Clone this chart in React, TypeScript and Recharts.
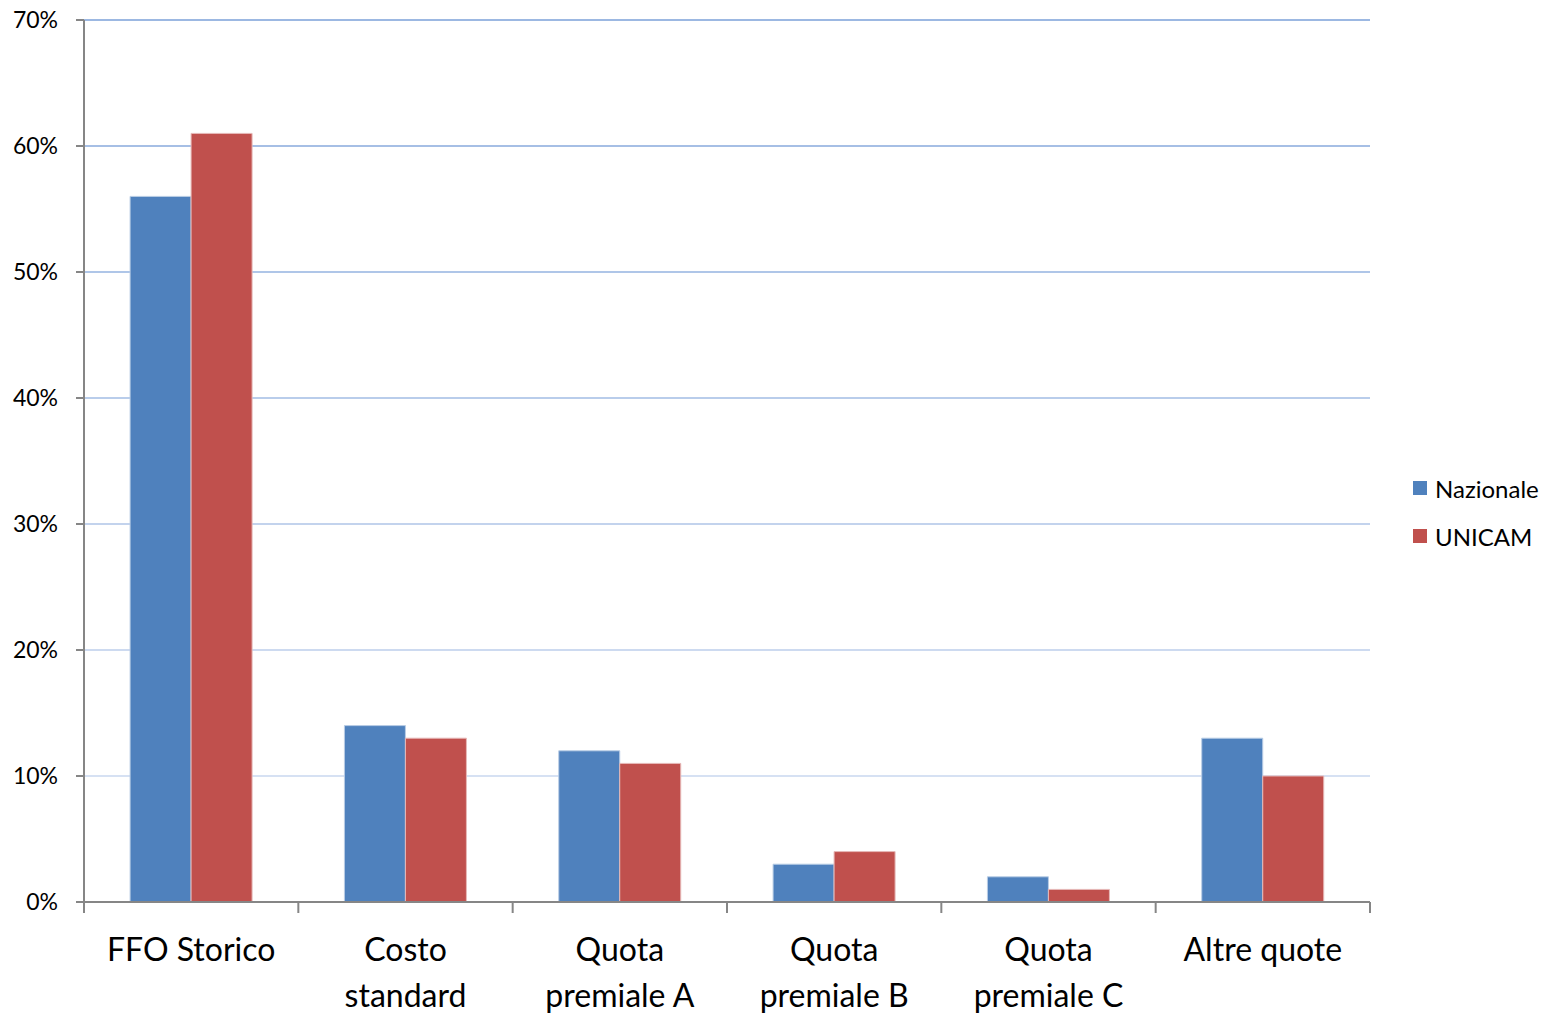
import React from "react";
import { BarChart, Bar, XAxis, YAxis, CartesianGrid } from "recharts";

const categories = ["FFO Storico", "Costo\nstandard", "Quota\npremiale A", "Quota\npremiale B", "Quota\npremiale C", "Altre quote"];
const nazionale = [56, 14, 12, 3, 2, 13];
const unicam = [61, 13, 11, 4, 1, 10];
const yTicks = [0, 10, 20, 30, 40, 50, 60, 70];

const FONT = "Lato, 'Open Sans', sans-serif";
const W = 1547;
const H = 1016;
const M = { top: 20, right: 177, left: 0, bottom: 0 };
const Y_W = 84;
const X_H = 114;
const band = (W - M.right - Y_W) / categories.length;
const plotTop = M.top;
const plotBottom = H - X_H;

const data = categories.map((c, i) => ({ name: c, Nazionale: nazionale[i], UNICAM: unicam[i] }));

// Excel-style grid: darker blue at the top, paler near the axis
function gridColor(y: number) {
  const t = Math.min(1, Math.max(0, (y - plotTop) / (plotBottom - plotTop)));
  const a = [156, 184, 226];
  const b = [224, 232, 246];
  const c = a.map((v, i) => Math.round(v + (b[i] - v) * t));
  return `rgb(${c[0]},${c[1]},${c[2]})`;
}

function GridLine(props: any) {
  const { x1, x2, y1, y2 } = props;
  if (Math.abs(y1 - plotBottom) < 2) return <g />;
  return <line x1={x1} x2={x2} y1={y1} y2={y2} stroke={gridColor(y1)} strokeWidth={2} />;
}

function CategoryTick(props: any) {
  const { x, y, payload, index } = props;
  const lines = String(payload.value).split("\n");
  return (
    <g>
      <line x1={x - band / 2} x2={x - band / 2} y1={y - 8} y2={y + 3} stroke="#868686" strokeWidth={2} />
      {index === categories.length - 1 && (
        <line x1={x + band / 2} x2={x + band / 2} y1={y - 8} y2={y + 3} stroke="#868686" strokeWidth={2} />
      )}
      <text x={x} y={y + 51} textAnchor="middle" fontSize={32} fill="#000" fontFamily={FONT}>
        {lines.map((l, i) => (
          <tspan key={i} x={x} dy={i === 0 ? 0 : 46}>
            {l}
          </tspan>
        ))}
      </text>
    </g>
  );
}

function LegendBox() {
  const items = [
    { label: "Nazionale", color: "#4f81bd" },
    { label: "UNICAM", color: "#c0504d" },
  ];
  return (
    <div style={{ position: "absolute", left: 1413, top: 464, fontFamily: FONT, fontSize: 24 }}>
      {items.map((it) => (
        <div key={it.label} style={{ display: "flex", alignItems: "center", height: 48 }}>
          <span style={{ width: 14, height: 14, background: it.color, display: "inline-block", marginRight: 8 }} />
          <span style={{ color: "#000" }}>{it.label}</span>
        </div>
      ))}
    </div>
  );
}

export default function App() {
  return (
    <div style={{ position: "relative", width: W, height: H, background: "#fff" }}>
      <style>{`body{margin:0}`}</style>
      <BarChart width={W} height={H} data={data} margin={M} barCategoryGap="21.5%" barGap={0}>
        <CartesianGrid vertical={false} horizontal={<GridLine />} />
        <XAxis
          dataKey="name"
          height={X_H}
          interval={0}
          tickLine={false}
          tick={<CategoryTick />}
          axisLine={{ stroke: "#868686", strokeWidth: 2 }}
        />
        <YAxis
          width={Y_W}
          domain={[0, 70]}
          ticks={yTicks}
          tickFormatter={(v) => `${v}%`}
          tick={{ fontSize: 23, fill: "#000", fontFamily: FONT }}
          tickSize={8}
          tickMargin={18}
          tickLine={{ stroke: "#868686", strokeWidth: 2 }}
          axisLine={{ stroke: "#868686", strokeWidth: 2 }}
        />
        <Bar dataKey="Nazionale" fill="#4f81bd" stroke="#b9cde5" strokeWidth={1} isAnimationActive={false} />
        <Bar dataKey="UNICAM" fill="#c0504d" stroke="#e6b9b8" strokeWidth={1} isAnimationActive={false} />
      </BarChart>
      <LegendBox />
    </div>
  );
}
